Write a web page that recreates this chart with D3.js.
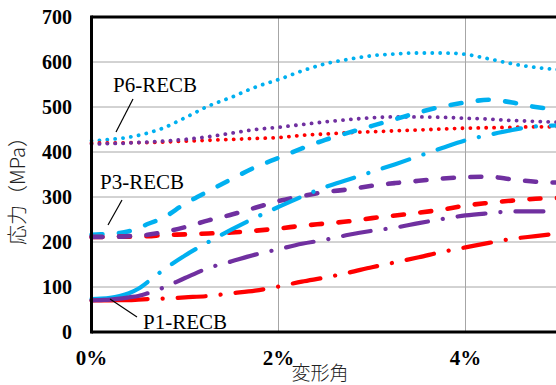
<!DOCTYPE html>
<html>
<head>
<meta charset="utf-8">
<script src="https://cdn.jsdelivr.net/npm/d3@7"></script>
<style>
  html, body { margin: 0; padding: 0; background: #fff; }
  svg { display: block; }
</style>
</head>
<body>
<svg id="chart" width="556" height="385"></svg>
<script>
// Drift angle (%) sampling points shared by all curves
const drift = [0, 0.1, 0.2, 0.3, 0.4, 0.5, 0.6, 0.75, 1.0, 1.25, 1.5, 1.75, 2.0,
               2.25, 2.5, 2.75, 3.0, 3.25, 3.5, 3.75, 4.0, 4.25, 4.5, 4.75, 5.0];

// Stress (MPa) — P6-RECB group (dotted)
const p6Cyan   = [425, 426, 428, 430, 433, 437, 442, 452, 476, 502, 522, 544, 561,
                  580, 596, 606, 614, 618, 620, 620, 617, 607, 596, 588, 583];
const p6Purple = [418, 418, 419, 419, 420, 421, 422, 424, 428, 434, 442, 450, 455,
                  461, 467, 472, 476, 478, 478, 477, 475, 473, 470, 468, 466];
const p6Red    = [420, 420, 420, 420, 421, 421, 421, 422, 424, 426, 428, 430, 432,
                  437, 440, 443, 445, 447, 449, 451, 453, 454, 455, 456, 456];

// Stress (MPa) — P3-RECB group (dashed)
const p3Cyan   = [216, 217, 218, 220, 224, 230, 240, 252, 285, 313, 340, 366, 387,
                  408, 427, 443, 458, 473, 488, 501, 510, 516, 510, 500, 494];
const p3Purple = [211, 211, 212, 212, 213, 214, 216, 221, 233, 248, 261, 276, 291,
                  302, 311, 317, 325, 331, 336, 341, 344, 345, 339, 334, 332];
const p3Red    = [211, 211, 212, 212, 212, 213, 213, 215, 217, 219, 221, 225, 230,
                  236, 241, 246, 253, 259, 265, 272, 281, 287, 292, 296, 298];

// Stress (MPa) — P1-RECB group (dash-dot)
const p1Cyan   = [73, 74, 76, 80, 86, 96, 111, 135, 170, 200, 228, 254, 278,
                  301, 322, 339, 356, 373, 391, 409, 426, 438, 449, 457, 459];
const p1Purple = [70, 71, 72, 74, 77, 80, 86, 97, 120, 142, 157, 172, 184,
                  196, 205, 216, 225, 232, 242, 251, 259, 264, 268, 268, 267];
const p1Red    = [70, 70, 70, 71, 71, 72, 73, 74, 77, 80, 86, 92, 101,
                  112, 121, 132, 144, 155, 166, 178, 188, 198, 207, 213, 219];

// Axis ticks and labels
const yTicks = [0, 100, 200, 300, 400, 500, 600, 700];
const xTicks = [0, 2, 4];
const xTickLabels = ["0%", "2%", "4%"];
const yTitle = "応力（MPa）";
const xTitle = "変形角";

// Group annotations
const groupLabels = ["P6-RECB", "P3-RECB", "P1-RECB"];

// ---------------------------------------------------------------
const svg = d3.select("#chart");
const plot = { left: 91.5, right: 559, top: 17, bottom: 332 };

const x = d3.scaleLinear().domain([0, 5]).range([plot.left, plot.right]);
const y = d3.scaleLinear().domain([0, 700]).range([plot.bottom, plot.top]);

const colors = { cyan: "#00B0F0", purple: "#7030A0", red: "#FF0000" };
const serif = "'Liberation Serif', 'Times New Roman', serif";
const cjk = "'Noto Sans CJK JP', 'Noto Sans CJK SC', sans-serif";

// Gridlines
const grid = svg.append("g");
grid.selectAll("line.h")
  .data(yTicks.filter(v => v > 0 && v < 700))
  .join("line")
  .attr("x1", plot.left).attr("x2", 556)
  .attr("y1", d => y(d)).attr("y2", d => y(d))
  .attr("stroke", "#A6A6A6").attr("stroke-width", 1);
grid.selectAll("line.v")
  .data(xTicks.filter(v => v > 0))
  .join("line")
  .attr("x1", d => x(d)).attr("x2", d => x(d))
  .attr("y1", plot.top).attr("y2", plot.bottom)
  .attr("stroke", "#A6A6A6").attr("stroke-width", 1);

// Curves
const line = d3.line()
  .x(d => x(d[0]))
  .y(d => y(d[1]))
  .curve(d3.curveMonotoneX);

const pairs = vals => drift.map((d, i) => [d, vals[i]]);

const styles = {
  dotted:  { width: 3.8, dash: "0.1 7.8", offset: 0 },
  dashed:  { width: 4.6, dash: "11 16.5", offset: 0 },
  dashdot: { width: 4.2, dash: "28 15 0.1 15", offset: 28 }
};

const series = [
  { vals: p6Cyan,   color: colors.cyan,   style: "dotted" },
  { vals: p6Red,    color: colors.red,    style: "dotted" },
  { vals: p6Purple, color: colors.purple, style: "dotted" },
  { vals: p3Cyan,   color: colors.cyan,   style: "dashed" },
  { vals: p3Red,    color: colors.red,    style: "dashed" },
  { vals: p3Purple, color: colors.purple, style: "dashed" },
  { vals: p1Cyan,   color: colors.cyan,   style: "dashdot" },
  { vals: p1Red,    color: colors.red,    style: "dashdot" },
  { vals: p1Purple, color: colors.purple, style: "dashdot" }
];

const curves = svg.append("g").attr("fill", "none").attr("stroke-linecap", "round");
const splitAt = 0.6;  // dash-dot curves start with a solid run up to this drift

series.forEach(s => {
  const st = styles[s.style];
  const pts = pairs(s.vals);
  if (s.style === "dashdot") {
    curves.append("path")
      .attr("d", line(pts.filter(p => p[0] <= splitAt)))
      .attr("stroke", s.color)
      .attr("stroke-width", st.width);
    curves.append("path")
      .attr("d", line(pts.filter(p => p[0] >= splitAt)))
      .attr("stroke", s.color)
      .attr("stroke-width", st.width)
      .attr("stroke-dasharray", st.dash)
      .attr("stroke-dashoffset", st.offset);
  } else {
    curves.append("path")
      .attr("d", line(pts))
      .attr("stroke", s.color)
      .attr("stroke-width", st.width)
      .attr("stroke-dasharray", st.dash)
      .attr("stroke-dashoffset", st.offset);
  }
});

// Plot frame: top, left and bottom edges
const frame = svg.append("g").attr("stroke", "#000").attr("stroke-width", 3);
frame.append("line").attr("x1", plot.left).attr("x2", 556).attr("y1", y(700)).attr("y2", y(700));
frame.append("line").attr("x1", plot.left).attr("x2", 556).attr("y1", y(0)).attr("y2", y(0));
frame.append("line").attr("x1", plot.left).attr("x2", plot.left).attr("y1", y(700) - 1.5).attr("y2", y(0) + 1.5);

// Y tick labels
svg.append("g")
  .selectAll("text")
  .data(yTicks)
  .join("text")
  .attr("x", 72)
  .attr("y", d => y(d))
  .attr("dy", "0.35em")
  .attr("text-anchor", "end")
  .attr("font-family", serif)
  .attr("font-weight", "bold")
  .attr("font-size", 20)
  .text(d => d);

// X tick labels
svg.append("g")
  .selectAll("text")
  .data(xTicks)
  .join("text")
  .attr("x", d => x(d))
  .attr("y", 365)
  .attr("text-anchor", "middle")
  .attr("font-family", serif)
  .attr("font-weight", "bold")
  .attr("font-size", 21)
  .text((d, i) => xTickLabels[i]);

// Axis titles
svg.append("text")
  .attr("transform", "translate(25,186) rotate(-90)")
  .attr("text-anchor", "middle")
  .attr("font-family", cjk)
  .attr("font-weight", 300)
  .attr("font-size", 20)
  .attr("fill", "#222")
  .text(yTitle);

svg.append("text")
  .attr("x", 320)
  .attr("y", 380)
  .attr("text-anchor", "middle")
  .attr("font-family", cjk)
  .attr("font-weight", 300)
  .attr("font-size", 19)
  .attr("fill", "#222")
  .text(xTitle);

// Group annotations with leader lines
const notes = [
  { label: groupLabels[0], tx: 113, ty: 92,  l: [133, 99, 116, 132] },
  { label: groupLabels[1], tx: 100, ty: 189, l: [122, 200, 108, 225] },
  { label: groupLabels[2], tx: 143, ty: 329, l: [137, 317, 110, 299] }
];
const ann = svg.append("g");
notes.forEach(n => {
  ann.append("line")
    .attr("x1", n.l[0]).attr("y1", n.l[1])
    .attr("x2", n.l[2]).attr("y2", n.l[3])
    .attr("stroke", "#000").attr("stroke-width", 1.2);
  ann.append("text")
    .attr("x", n.tx).attr("y", n.ty)
    .attr("font-family", serif)
    .attr("font-size", 21)
    .text(n.label);
});
</script>
</body>
</html>
